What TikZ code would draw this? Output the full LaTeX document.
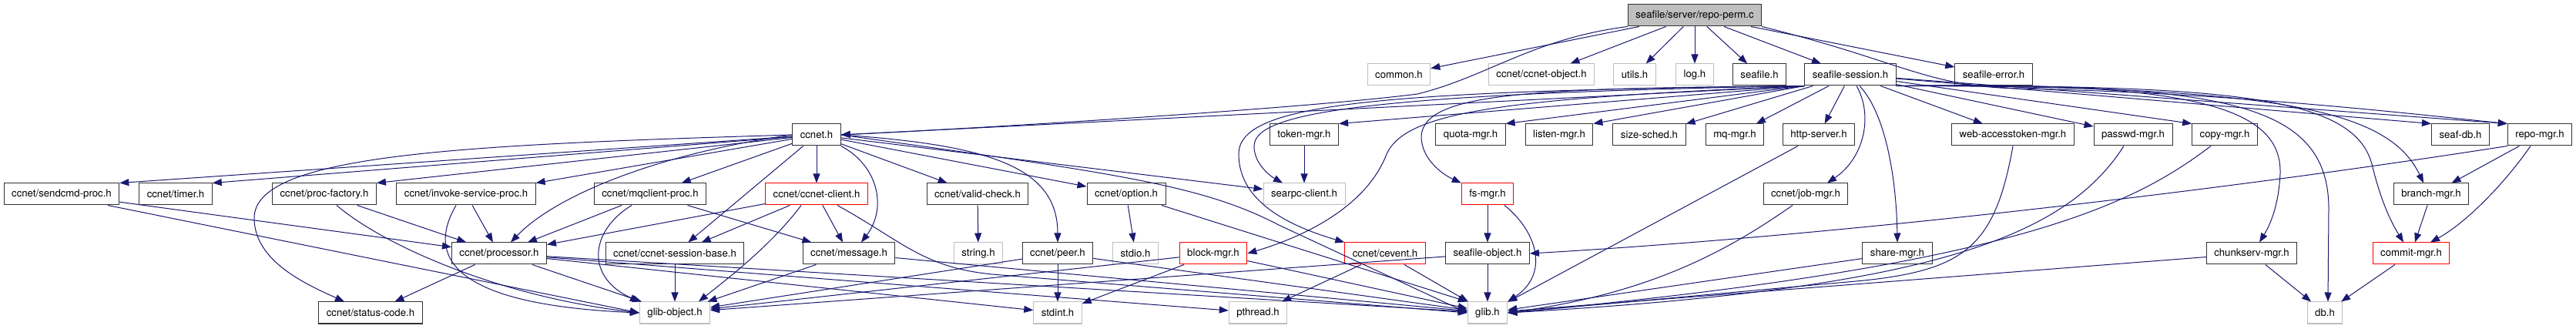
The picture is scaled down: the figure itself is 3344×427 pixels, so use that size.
\documentclass[tikz,border=0pt]{standalone}
\usepackage{fontspec}
\setmainfont{TeX Gyre Heros}
\usepackage{xcolor}
\usetikzlibrary{arrows.meta}
\definecolor{edgeblue}{HTML}{191970}
\definecolor{nodegray}{HTML}{BFBFBF}

\begin{document}
\begin{tikzpicture}[x=1pt, y=-1pt,
  box/.style={draw=black!80, line width=1pt, minimum height=28pt, inner xsep=10pt,
              inner ysep=0pt, font=\fontsize{13.2}{15}\selectfont},
  sysbox/.style={box, draw=nodegray},
  redbox/.style={box, draw=red},
  rootbox/.style={box, fill=nodegray},
  arrow/.style={-{Triangle[length=12pt,width=9pt]}, line width=1pt, edgeblue}
]
  \path[use as bounding box, fill=white] (0,0) rectangle (3344,427);

  % top row
  \node[rootbox] (perm) at (2200,20) {seafile/server/repo-perm.c};

  % row 1
  \node[sysbox] (common)  at (1816,97) {common.h};
  \node[sysbox] (ccobj)   at (2001,97) {ccnet/ccnet-object.h};
  \node[sysbox] (utils)   at (2122,97) {utils.h};
  \node[sysbox] (log)     at (2200,97) {log.h};
  \node[box]    (seafile) at (2284,97) {seafile.h};
  \node[box]    (session) at (2402,97) {seafile-session.h};
  \node[box]    (seaferr) at (2588,97) {seafile-error.h};

  % row 2
  \node[box] (ccnet)     at (1060,175) {ccnet.h};
  \node[box] (token)     at (1693,175) {token-mgr.h};
  \node[box] (quota)     at (1909,175) {quota-mgr.h};
  \node[box] (listen)    at (2024,175) {listen-mgr.h};
  \node[box] (sizesched) at (2141,175) {size-sched.h};
  \node[box] (mqmgr)     at (2252,175) {mq-mgr.h};
  \node[box] (http)      at (2361,175) {http-server.h};
  \node[box] (webtok)    at (2613,175) {web-accesstoken-mgr.h};
  \node[box] (passwd)    at (2769,175) {passwd-mgr.h};
  \node[box] (copy)      at (2888,175) {copy-mgr.h};
  \node[box] (seafdb)    at (3194,175) {seaf-db.h};
  \node[box] (repomgr)   at (3297,175) {repo-mgr.h};

  % row 3
  \node[box]    (sendcmd)  at (80,252)   {ccnet/sendcmd-proc.h};
  \node[box]    (timer)    at (228,252)  {ccnet/timer.h};
  \node[box]    (procfac)  at (421,252)  {ccnet/proc-factory.h};
  \node[box]    (invoke)   at (605,252)  {ccnet/invoke-service-proc.h};
  \node[box]    (mqclient) at (844,252)  {ccnet/mqclient-proc.h};
  \node[redbox] (client)   at (1060,252) {ccnet/ccnet-client.h};
  \node[box]    (valid)    at (1269,252) {ccnet/valid-check.h};
  \node[box]    (option)   at (1462,252) {ccnet/option.h};
  \node[sysbox] (searpc)   at (1693,252) {searpc-client.h};
  \node[redbox] (fsmgr)    at (1931,252) {fs-mgr.h};
  \node[box]    (jobmgr)   at (2344,252) {ccnet/job-mgr.h};
  \node[box]    (branch)   at (3156,252) {branch-mgr.h};

  % row 4
  \node[box]    (processor) at (648,329)  {ccnet/processor.h};
  \node[box]    (sessbase)  at (876,329)  {ccnet/ccnet-session-base.h};
  \node[box]    (message)   at (1102,329) {ccnet/message.h};
  \node[sysbox] (string)    at (1270,329) {string.h};
  \node[box]    (peer)      at (1373,329) {ccnet/peer.h};
  \node[sysbox] (stdio)     at (1474,329) {stdio.h};
  \node[redbox] (block)     at (1575,329) {block-mgr.h};
  \node[redbox] (cevent)    at (1798,329) {ccnet/cevent.h};
  \node[box]    (seafobj)   at (1931,329) {seafile-object.h};
  \node[box]    (share)     at (2463,329) {share-mgr.h};
  \node[box]    (chunk)     at (2923,329) {chunkserv-mgr.h};
  \node[redbox] (commit)    at (3130,329) {commit-mgr.h};

  % bottom row
  \node[box]    (status)  at (481,406)  {ccnet/status-code.h};
  \node[sysbox] (gobject) at (876,406)  {glib-object.h};
  \node[sysbox] (stdint)  at (1373,406) {stdint.h};
  \node[sysbox] (pthread) at (1633,406) {pthread.h};
  \node[sysbox] (glib)    at (1931,406) {glib.h};
  \node[sysbox] (db)      at (3018,406) {db.h};

  % repo-perm.c
  \draw[arrow] (perm) -- (common);
  \draw[arrow] (perm.south west) .. controls (1990,50) and (1930,100) .. (1840,122) .. controls (1700,140) and (1300,165) .. (ccnet.east);
  \draw[arrow] (perm) -- (ccobj);
  \draw[arrow] (perm) -- (utils);
  \draw[arrow] (perm) -- (log);
  \draw[arrow] (perm) -- (seafile);
  \draw[arrow] (perm) -- (session);
  \draw[arrow] (perm) -- (seaferr);
  \draw[arrow] (perm.south east) .. controls (2470,80) and (2500,112) .. (2620,115) .. controls (2900,120) and (3150,150) .. (repomgr.north west);

  % seafile-session.h
  \draw[arrow] (session.south west) -- (ccnet.east);
  \draw[arrow] (session.south west) -- (token.north east);
  \draw[arrow] (session.south west) -- (quota.north east);
  \draw[arrow] (session.south west) -- (listen.north east);
  \draw[arrow] (session) -- (sizesched);
  \draw[arrow] (session) -- (mqmgr);
  \draw[arrow] (session) -- (http);
  \draw[arrow] ([xshift=8pt]session.south) .. controls (2432,150) and (2420,205) .. ([xshift=28pt]jobmgr.north);
  \draw[arrow] ([xshift=12pt]session.south) .. controls (2450,150) and (2462,240) .. (share.north);
  \draw[arrow] (session) -- (webtok);
  \draw[arrow] (session) -- (passwd);
  \draw[arrow] (session) -- (copy.north west);
  \draw[arrow] (session) -- (seafdb.north west);
  \draw[arrow] (session) -- (repomgr.north west);
  \draw[arrow] (session.south east) .. controls (2850,105) and (2962,140) .. (2960,225) .. controls (2958,270) and (2945,295) .. ([xshift=10pt]chunk.north);
  \draw[arrow] (session.south east) .. controls (2880,108) and (3022,130) .. (3023,270) -- ([xshift=4pt]db.north);
  \draw[arrow] (session.south east) .. controls (2900,110) and (3060,125) .. (3080,217) .. controls (3092,265) and (3105,290) .. ([xshift=-10pt]commit.north);
  \draw[arrow] (session.south east) .. controls (2950,112) and (3100,140) .. ([xshift=-10pt]branch.north);
  \draw[arrow] (session.south west) .. controls (2000,115) and (1848,118) .. (1845,177) .. controls (1845,205) and (1870,225) .. (fsmgr.north west);
  \draw[arrow] (session.south west) .. controls (1950,128) and (1825,145) .. (1800,200) .. controls (1775,265) and (1700,305) .. (block.east);
  \draw[arrow] (session.south west) .. controls (1780,118) and (1608,135) .. (1608,200) .. controls (1608,265) and (1680,295) .. (cevent.north west);
  \draw[arrow] (session.south west) .. controls (1740,122) and (1628,150) .. (1628,190) .. controls (1628,212) and (1648,228) .. ([xshift=-28pt]searpc.north);

  % ccnet.h
  \draw[arrow] (ccnet) -- (sendcmd.north east);
  \draw[arrow] (ccnet) -- (timer.north east);
  \draw[arrow] (ccnet) -- (procfac.north east);
  \draw[arrow] (ccnet) -- (invoke.north east);
  \draw[arrow] (ccnet.west) .. controls (600,188) and (330,200) .. (330,283) .. controls (330,340) and (400,370) .. ([xshift=-34pt]status.north);
  \draw[arrow] (ccnet.west) .. controls (850,200) and (720,255) .. ([xshift=15pt]processor.north);
  \draw[arrow] (ccnet) -- (mqclient);
  \draw[arrow] (ccnet) -- (client);
  \draw[arrow] (ccnet) -- (sessbase);
  \draw[arrow] (ccnet.south east) .. controls (1140,215) and (1152,270) .. ([xshift=16pt]message.north);
  \draw[arrow] (ccnet) -- (valid);
  \draw[arrow] (ccnet) -- (option);
  \draw[arrow] (ccnet.east) .. controls (1280,188) and (1373,215) .. (peer.north);
  \draw[arrow] (ccnet) -- (searpc);
  \draw[arrow] (ccnet.east) .. controls (1450,225) and (1560,240) .. (1660,292) -- (glib.west);

  % ccnet/ccnet-client.h
  \draw[arrow] (client) -- (processor);
  \draw[arrow] (client) -- (sessbase);
  \draw[arrow] (client) -- (message);
  \draw[arrow] ([xshift=-20pt]client.south) .. controls (1000,320) and (940,365) .. ([xshift=31pt]gobject.north);
  \draw[arrow] ([xshift=27pt]client.south) .. controls (1175,315) and (1200,350) .. (1300,357) -- (glib.west);

  % proc headers
  \draw[arrow] (mqclient) -- (processor);
  \draw[arrow] ([xshift=-24pt]mqclient.south) .. controls (765,300) and (760,360) .. (gobject.north west);
  \draw[arrow] (mqclient) -- (message);
  \draw[arrow] (invoke) -- (processor);
  \draw[arrow] ([xshift=-13pt]invoke.south) .. controls (555,330) and (580,395) .. (gobject.west);
  \draw[arrow] (procfac) -- (processor);
  \draw[arrow] ([xshift=16pt]procfac.south) .. controls (500,320) and (650,385) .. (gobject.west);
  \draw[arrow] (sendcmd) -- (processor);
  \draw[arrow] ([xshift=60pt]sendcmd.south) -- (gobject.west);

  % ccnet/processor.h
  \draw[arrow] (processor) -- (status);
  \draw[arrow] (processor) -- (gobject);
  \draw[arrow] (processor) -- (stdint);
  \draw[arrow] (processor) -- (pthread);
  \draw[arrow] (processor) -- (glib);

  % row 4 headers
  \draw[arrow] (sessbase) -- (gobject);
  \draw[arrow] (message) -- (gobject);
  \draw[arrow] (message) -- (glib);
  \draw[arrow] (valid) -- (string);
  \draw[arrow] (peer) -- (gobject);
  \draw[arrow] (peer) -- (stdint);
  \draw[arrow] (peer) -- (glib);
  \draw[arrow] (option) -- (stdio);
  \draw[arrow] (option) -- (glib.north west);
  \draw[arrow] (block) -- (gobject);
  \draw[arrow] (block) -- (stdint);
  \draw[arrow] (block) -- (glib);
  \draw[arrow] (cevent) -- (pthread);
  \draw[arrow] (cevent) -- (glib);
  \draw[arrow] (fsmgr) -- (seafobj);
  \draw[arrow] ([xshift=22pt]fsmgr.south) .. controls (1995,300) and (2012,355) .. (glib.north east);
  \draw[arrow] (seafobj) -- (glib);
  \draw[arrow] (seafobj) -- (gobject);
  \draw[arrow] (token) -- (searpc);

  % managers into glib.h
  \draw[arrow] (http) -- (glib);
  \draw[arrow] ([xshift=-17pt]jobmgr.south) .. controls (2250,320) and (2150,380) .. (glib.east);
  \draw[arrow] (share) -- (glib);
  \draw[arrow] (webtok.south) .. controls (2590,320) and (2550,350) .. (2420,364) -- (glib.east);
  \draw[arrow] ([xshift=-12pt]passwd.south) .. controls (2680,310) and (2500,375) .. (glib.east);
  \draw[arrow] ([xshift=-18pt]copy.south) .. controls (2770,265) and (2620,345) .. (glib.east);
  \draw[arrow] (chunk) -- (glib);
  \draw[arrow] (chunk) -- (db);

  % repo-mgr.h
  \draw[arrow] (commit) -- (db);
  \draw[arrow] (branch) -- (commit);
  \draw[arrow] (repomgr) -- (branch);
  \draw[arrow] ([xshift=-12pt]repomgr.south) .. controls (3250,240) and (3200,290) .. ([xshift=25pt]commit.north);
  \draw[arrow] (repomgr.south west) .. controls (2900,245) and (2400,305) .. (seafobj.east);
\end{tikzpicture}
\end{document}
